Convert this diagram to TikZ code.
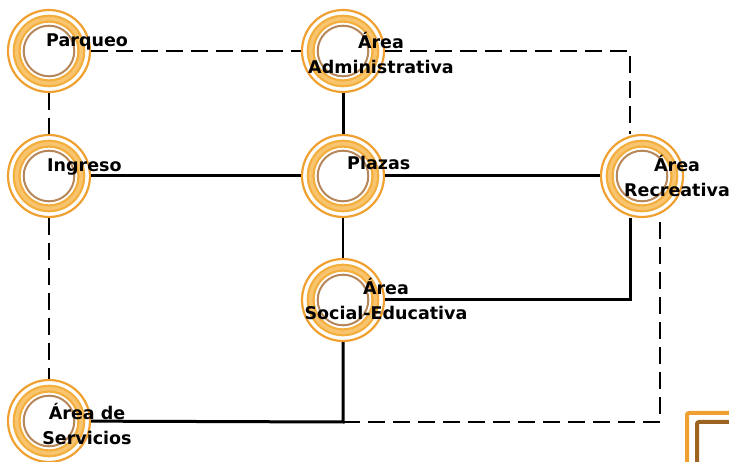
\documentclass[tikz,border=0pt]{standalone}
\usepackage{fontspec}
\setmainfont{DejaVu Sans}
\usetikzlibrary{positioning,calc}
\definecolor{ringout}{HTML}{F0A030}
\definecolor{ringband}{HTML}{F3AE3E}
\definecolor{ringlight}{HTML}{F8C56E}
\definecolor{ringbrown}{HTML}{B5875A}
\definecolor{framebrown}{HTML}{9C6420}
\begin{document}
\begin{tikzpicture}[x=1pt,y=-1pt,
  ring/.style={circle,draw=ringout,line width=2.2pt,minimum size=82pt,inner sep=0pt,
    path picture={
      \draw[ringband,line width=8pt] (path picture bounding box.center) circle (32.3pt);
      \draw[ringlight,line width=3.5pt] (path picture bounding box.center) circle (32.3pt);
      \draw[ringbrown,line width=2pt] (path picture bounding box.center) circle (25.3pt);}},
  lbl/.style={font=\fontsize{17.5}{25.5}\selectfont\bfseries,inner sep=0pt,align=center},
  link/.style={line width=3pt},
  thinlink/.style={line width=1.6pt},
  dashlink/.style={line width=2.3pt,dash pattern=on 17pt off 8pt}]
\useasboundingbox (0,0) rectangle (729,462);
\clip (0,0) rectangle (729,462);

% circles
\node[ring] (parq) at (49,51) {};
\node[ring] (admin) at (343,51) {};
\node[ring] (ingr) at (49,176) {};
\node[ring] (plaz) at (343,176) {};
\node[ring] (recre) at (642,176) {};
\node[ring] (soc) at (343,300) {};
\node[ring] (serv) at (49,421) {};
\coordinate (ne) at (630,51);
\coordinate (sw) at (343,422);

% dashed links
\draw[dashlink] (parq) -- (admin);
\draw[dashlink] (admin) -- (ne) -- (ne |- recre.north);
\draw[dashlink] (parq) -- (ingr);
\draw[dashlink] (ingr) -- (serv);
\draw[dashlink] (sw) -| ([xshift=18pt]recre.south);

% solid links
\draw[link] (admin) -- (plaz);
\draw[link] (ingr) -- (plaz);
\draw[link] (plaz) -- (recre);
\draw[thinlink] (plaz) -- (soc);
\draw[link] (soc) -| ([xshift=-12pt]recre.south);
\draw[link] (soc) -- (sw) -- (serv);

% partial frame, bottom right
\draw[ringout,line width=4pt,rounded corners=2pt] (687,480) |- (760,413);
\draw[framebrown,line width=4pt,rounded corners=2pt] (697,480) |- (760,422);

% labels
\node[lbl,anchor=base west] (parq-t) at (46,47) {Parqueo};
\node[lbl,anchor=base] (admin-t) at (381,74) {Área\\Administrativa};
\node[lbl,anchor=base west] (ingr-t) at (47,171.5) {Ingreso};
\node[lbl,anchor=base west] (plaz-t) at (347,170) {Plazas};
\node[lbl,anchor=base] (recre-t) at (677,197) {Área\\Recreativa};
\node[lbl,anchor=base] (soc-t) at (386,320) {Área\\Social-Educativa};
\node[lbl,anchor=base] (serv-t) at (87,445) {Área de\\Servicios};
\end{tikzpicture}
\end{document}
